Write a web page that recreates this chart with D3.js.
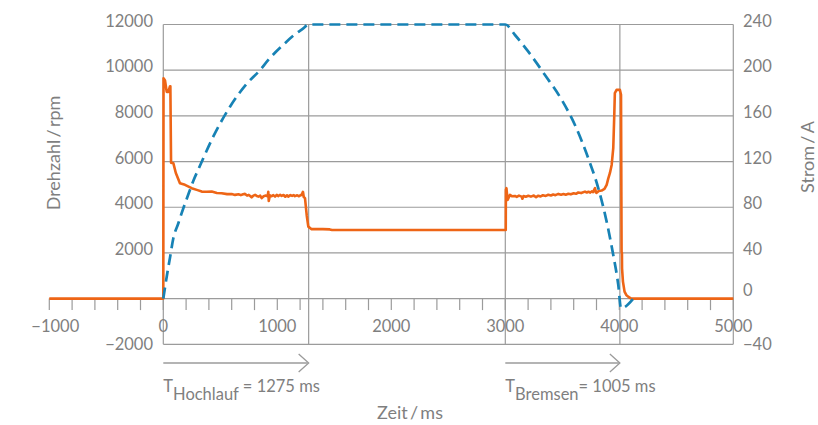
<!DOCTYPE html>
<html><head><meta charset="utf-8">
<script src="https://cdn.jsdelivr.net/npm/d3@7"></script>
<style>
html,body{margin:0;padding:0;background:#fff;}
svg{display:block;font-family:Lato,"Open Sans",sans-serif;}
</style></head>
<body><svg id="c" width="818" height="425"></svg>
<script>
// ---- data ----
const timeTicks = [-1000, 0, 1000, 2000, 3000, 4000, 5000];
const rpmTicks = [-2000, 0, 2000, 4000, 6000, 8000, 10000, 12000];
const ampTicks = [-40, 0, 40, 80, 120, 160, 200, 240];
const phaseMarks = [0, 1275, 3000, 4005];   // ms
const hochlaufMs = 1275;
const bremsenMs = 1005;

const speedTime = [0, 30, 59, 88, 132, 161, 234, 263, 307, 439, 585, 731, 848, 921, 1050, 1150, 1228, 1275,
  3000, 3085, 3202, 3348, 3495, 3611, 3728, 3816, 3889, 3947, 3991, 4015, 4123];
const speedRpm = [0, 960, 1800, 2640, 3300, 3740, 4760, 5150, 5650, 7100, 8400, 9400, 10000, 10450, 11100, 11550, 11830, 12000,
  12000, 11540, 10810, 9790, 8700, 7600, 6140, 4830, 3370, 1910, 600, -420, 0];

const currentTime = [-1000, 0, 2, 15, 30, 44, 59, 62, 68, 88, 110, 146, 190, 249, 300, 337, 380, 425, 470, 512,
  560, 600, 629, 660, 680, 700, 717, 735, 750, 765, 775, 790, 805, 820, 835, 850, 863, 880, 900, 915, 921, 925,
  935, 950, 965, 980, 995, 1010, 1025, 1038, 1055, 1070, 1085, 1096, 1115, 1130, 1145, 1155, 1175, 1190, 1205,
  1213, 1225, 1232, 1243, 1258, 1272, 1301, 1400, 1460, 1480,
  3000, 3004, 3005, 3010, 3020, 3041, 3060, 3085, 3100, 3120, 3143, 3150, 3160, 3180, 3202, 3225, 3250, 3270,
  3290, 3310, 3330, 3355, 3377, 3400, 3420, 3440, 3465, 3490, 3510, 3530, 3553, 3575, 3600, 3620, 3640, 3665,
  3699, 3715, 3730, 3745, 3758, 3770, 3787, 3795, 3801, 3820, 3845, 3870, 3889, 3903, 3918, 3933, 3947,
  3956, 3961, 3976, 4005, 4015, 4020, 4023, 4024, 4032, 4046, 4061, 4080, 4105, 5000];
const currentAmp = [0, 0, 193, 191, 181, 181, 186, 186, 119, 118.6, 110, 101, 99.6, 96.7, 95, 93.7, 93.5, 93.7, 92.5, 92.3,
  91.5, 91.5, 90.8, 91.3, 90.6, 91.4, 91.7, 90.2, 90.8, 89.6, 88.6, 90.2, 90.8, 89.9, 89.3, 90.1, 88, 89.6, 90.2, 89.5, 93.5, 85.5,
  90.5, 89.6, 90.6, 89.3, 90.8, 89.8, 90.9, 89.9, 90.7, 89.2, 90.5, 89.3, 90.6, 89.9, 90.6, 89.7, 90.5, 89.6, 90.6,
  90.8, 93.5, 89, 88, 73, 63, 60.8, 60.8, 60.6, 60.1,
  60.1, 60.1, 95.2, 96.7, 86.4, 90.8, 89.6, 89.9, 89.1, 90.2, 89.3, 87.5, 89.8, 89.2, 90.1, 89.3, 90.2, 88.8,
  90.1, 89.5, 90.5, 89.9, 90.9, 90.3, 91.2, 90.6, 91.7, 91, 91.5, 91, 91.8, 91.3, 92.2, 91.8, 92.9, 92.4,
  93.7, 92.9, 93.6, 92.8, 93.9, 93.2, 96.7, 93, 92.6, 94.2, 94.6, 96, 99.6, 105, 110, 117, 131.7,
  161, 180, 182.8, 182.8, 178.4, 41, 39.8, 26.6, 14.9, 6.1, 3.2, 1.5, 0, 0];

// ---- chart ----
const svg = d3.select("#c");
const textCol = "#7f7f7f", gridCol = "#9b9b9b";
const orange = "#ee6516", blue = "#1782b5";

const x = d3.scaleLinear().domain([-1000, 5000]).range([49.3, 733.3]);
const yL = d3.scaleLinear().domain([-2000, 12000]).range([344.3, 24.5]);
const yR = d3.scaleLinear().domain([-40, 240]).range([344.3, 24.5]);

const g = svg.append("g");
// horizontal grid
g.selectAll(".hg").data(rpmTicks).join("line")
  .attr("x1", d => d === 0 ? x(-1000) : x(0)).attr("x2", x(5000))
  .attr("y1", d => yL(d)).attr("y2", d => yL(d))
  .attr("stroke", gridCol).attr("stroke-width", 1.2);
// vertical lines (frame and phase marks)
g.selectAll(".vg").data(phaseMarks.concat([5000])).join("line")
  .attr("x1", d => x(d)).attr("x2", d => x(d))
  .attr("y1", yL(12000)).attr("y2", yL(-2000))
  .attr("stroke", gridCol).attr("stroke-width", 1.2);
// time axis minor ticks every 200 ms
const minor = d3.range(-1000, 5001, 200);
g.selectAll(".tk").data(minor).join("line")
  .attr("x1", d => x(d)).attr("x2", d => x(d))
  .attr("y1", yL(0)).attr("y2", yL(0) + 11.5)
  .attr("stroke", gridCol).attr("stroke-width", 1.2);

// tick labels
const fsT = 16.5;
g.selectAll(".tl").data(timeTicks).join("text")
  .attr("x", d => x(d) + (d < 0 ? 6 : 0)).attr("y", 332)
  .attr("text-anchor", "middle").attr("font-size", fsT).attr("fill", textCol)
  .text(d => d < 0 ? "\u2212" + Math.abs(d) : d);
g.selectAll(".ll").data(rpmTicks.filter(d => d !== 0)).join("text")
  .attr("x", 153).attr("y", d => yL(d) + (d < 0 ? 6 : 2))
  .attr("text-anchor", "end").attr("font-size", fsT).attr("fill", textCol)
  .text(d => d < 0 ? "\u2212" + Math.abs(d) : d);
g.selectAll(".rl").data(ampTicks).join("text")
  .attr("x", 743).attr("y", d => yR(d) + (d < 0 ? 6 : d === 0 ? -3 : 2))
  .attr("text-anchor", "start").attr("font-size", fsT).attr("fill", textCol)
  .text(d => d < 0 ? "\u2212" + Math.abs(d) : d);

// axis titles
svg.append("text").attr("transform", "translate(60,153) rotate(-90)")
  .attr("text-anchor", "middle").attr("font-size", 18).attr("fill", textCol)
  .text("Drehzahl\u2009/\u2009rpm");
svg.append("text").attr("transform", "translate(814,157) rotate(-90)")
  .attr("text-anchor", "middle").attr("font-size", 18).attr("fill", textCol)
  .text("Strom\u2009/\u2009A");
svg.append("text").attr("x", 410).attr("y", 419)
  .attr("text-anchor", "middle").attr("font-size", 18).attr("fill", textCol)
  .text("Zeit\u2009/\u2009ms");

// phase arrows
const arrows = [
  { from: 0, to: hochlaufMs, sub: "Hochlauf", rest: " = " + hochlaufMs + " ms" },
  { from: 3000, to: 3000 + bremsenMs, sub: "Bremsen", rest: "= " + bremsenMs + " ms" }
];
const ay = 363;
arrows.forEach(a => {
  const x0 = x(a.from), x1 = x(a.to);
  svg.append("line").attr("x1", x0).attr("x2", x1 - 1).attr("y1", ay).attr("y2", ay)
    .attr("stroke", gridCol).attr("stroke-width", 1.3);
  svg.append("path").attr("d", `M${x1 - 10},${ay - 9}L${x1},${ay}L${x1 - 10},${ay + 9}`)
    .attr("fill", "none").attr("stroke", gridCol).attr("stroke-width", 1.3);
  const t = svg.append("text").attr("x", x0).attr("y", 392)
    .attr("font-size", fsT).attr("fill", textCol);
  t.append("tspan").text("T");
  t.append("tspan").attr("dy", 8).text(a.sub);
  t.append("tspan").attr("dy", -8).text(a.rest);
});

// current (orange)
const cur = currentTime.map((t, i) => [t, currentAmp[i]]);
svg.append("path").datum(cur)
  .attr("d", d3.line().x(d => x(d[0])).y(d => yR(d[1])))
  .attr("fill", "none").attr("stroke", orange).attr("stroke-width", 2.6)
  .attr("stroke-linejoin", "round");

// speed (blue dashed)
const spd = speedTime.map((t, i) => [t, speedRpm[i]]);
svg.append("path").datum(spd)
  .attr("d", d3.line().curve(d3.curveMonotoneX).x(d => x(d[0])).y(d => yL(d[1])))
  .attr("fill", "none").attr("stroke", blue).attr("stroke-width", 2.7)
  .attr("stroke-dasharray", "11,6");
</script></body></html>
